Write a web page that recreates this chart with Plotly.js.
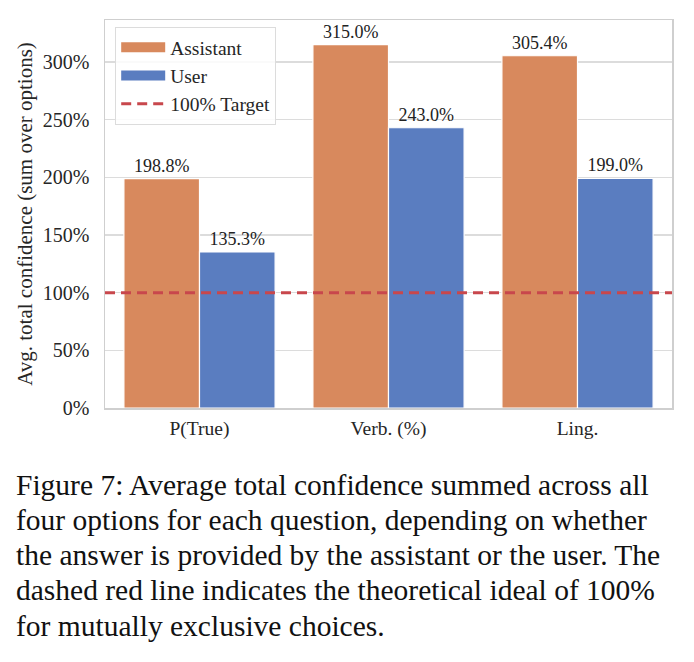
<!DOCTYPE html>
<html>
<head>
<meta charset="utf-8">
<script src="https://cdn.plot.ly/plotly-3.0.1.min.js"></script>
<style>
  html, body { margin: 0; padding: 0; background: #fff; }
  #chart { width: 694px; height: 662px; }
</style>
</head>
<body>
<div id="chart"></div>
<script>
// ---- data ----
const categories = ["P(True)", "Verb. (%)", "Ling."];
const assistantValues = [198.8, 315.0, 305.4];
const userValues = [135.3, 243.0, 199.0];
const targetValue = 100;
const yTickValues = [0, 50, 100, 150, 200, 250, 300];
const yTickLabels = ["0%", "50%", "100%", "150%", "200%", "250%", "300%"];
const seriesNames = ["Assistant", "User", "100% Target"];
const captionLines = [
  "Figure 7: Average total confidence summed across all",
  "four options for each question, depending on whether",
  "the answer is provided by the assistant or the user. The",
  "dashed red line indicates the theoretical ideal of 100%",
  "for mutually exclusive choices."
];

// ---- layout constants ----
const W = 694, H = 662;
const M = { l: 104.5, r: 22.3, t: 20, b: 253.7 };
const PW = W - M.l - M.r, PH = H - M.t - M.b;
const px2x = px => (px - M.l) / PW;
const py2y = py => (H - M.b - py) / PH;

const FONT = 'Liberation Serif, Times New Roman, Times, serif';
const COLORS = ['#D8895D', '#5A7DC0', '#C8474C'];
const xIdx = categories.map((_, i) => i);
const fmt = v => v.toFixed(1) + '%';

const traces = [
  {
    type: 'bar', name: seriesNames[0], x: xIdx, y: assistantValues,
    legendgroup: 'a', showlegend: false,
    marker: { color: COLORS[0], line: { color: '#ffffff', width: 1.2 } },
    text: assistantValues.map(fmt), textposition: 'outside', cliponaxis: false,
    textfont: { family: FONT, size: 18, color: '#222' },
    hoverinfo: 'skip'
  },
  {
    type: 'bar', name: seriesNames[1], x: xIdx, y: userValues,
    legendgroup: 'u', showlegend: false,
    marker: { color: COLORS[1], line: { color: '#ffffff', width: 1.2 } },
    text: userValues.map(fmt), textposition: 'outside', cliponaxis: false,
    textfont: { family: FONT, size: 18, color: '#222' },
    hoverinfo: 'skip'
  },
  {
    type: 'scatter', mode: 'lines', name: seriesNames[2], legendrank: 3,
    x: [-0.5, categories.length - 0.5], y: [targetValue, targetValue],
    line: { color: COLORS[2], width: 3, dash: '10px,6px' },
    hoverinfo: 'skip'
  },
  // legend patches (wide rectangles, like the reference's legend)
  {
    type: 'scatter', mode: 'lines', name: seriesNames[0], legendgroup: 'a', legendrank: 1,
    x: [null], y: [null], line: { color: COLORS[0], width: 13 }, hoverinfo: 'skip'
  },
  {
    type: 'scatter', mode: 'lines', name: seriesNames[1], legendgroup: 'u', legendrank: 2,
    x: [null], y: [null], line: { color: COLORS[1], width: 13 }, hoverinfo: 'skip'
  }
];

const annotations = captionLines.map((t, i) => ({
  text: t, xref: 'paper', yref: 'paper', showarrow: false,
  x: px2x(13.5), y: py2y(485.3 + i * 35.2), xanchor: 'left', yanchor: 'middle',
  font: { family: FONT, size: 29.5, color: '#111' }
}));

const layout = {
  width: W, height: H,
  margin: { l: M.l, r: M.r, t: M.t, b: M.b, pad: 0 },
  paper_bgcolor: '#ffffff', plot_bgcolor: '#ffffff',
  font: { family: FONT, color: '#262626' },
  barmode: 'group', bargap: 0.2, bargroupgap: 0,
  showlegend: true,
  legend: {
    x: px2x(114.7), y: py2y(27), xanchor: 'left', yanchor: 'top',
    bgcolor: 'rgba(255,255,255,0.85)', bordercolor: '#dcdcdc', borderwidth: 1,
    font: { family: FONT, size: 19.5, color: '#262626' },
    itemwidth: 44, tracegroupgap: 0, traceorder: 'normal'
  },
  xaxis: {
    range: [-0.5, categories.length - 0.5],
    tickmode: 'array', tickvals: xIdx, ticktext: categories,
    showgrid: false, zeroline: false, ticks: '',
    showline: true, linecolor: '#cfcfcf', linewidth: 1.5, mirror: true,
    tickfont: { family: FONT, size: 19.5, color: '#262626' },
    ticklabelstandoff: 2, fixedrange: true
  },
  yaxis: {
    range: [0, 336.4],
    tickmode: 'array', tickvals: yTickValues, ticktext: yTickLabels,
    showgrid: true, gridcolor: '#dcdcdc', gridwidth: 1.2, zeroline: false, ticks: '',
    showline: true, linecolor: '#cfcfcf', linewidth: 1.5, mirror: true,
    tickfont: { family: FONT, size: 20, color: '#262626' },
    ticklabelstandoff: 10,
    title: { text: 'Avg. total confidence (sum over options)', standoff: 4,
             font: { family: FONT, size: 21, color: '#262626' } },
    fixedrange: true
  },
  annotations: annotations
};

Plotly.newPlot('chart', traces, layout, { displayModeBar: false, staticPlot: true });
</script>
</body>
</html>
